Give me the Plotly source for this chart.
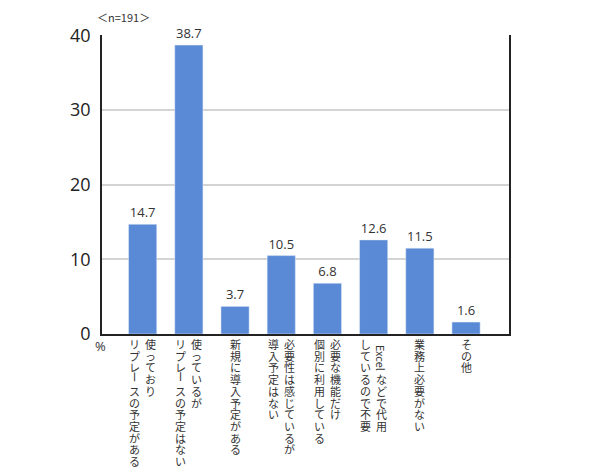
import plotly.graph_objects as go

# each label is a list of vertical columns, right column first
labels = [
    ["使っており", "リプレースの予定がある"],
    ["使っているが", "リプレースの予定はない"],
    ["新規に導入予定がある"],
    ["必要性は感じているが", "導入予定はない"],
    ["必要な機能だけ", "個別に利用している"],
    ["Excelなどで代用", "しているので不要"],
    ["業務上必要がない"],
    ["その他"],
]
values = [14.7, 38.7, 3.7, 10.5, 6.8, 12.6, 11.5, 1.6]
y_ticks = [0, 10, 20, 30, 40]
n_note = "＜n=191＞"

jp_font = "Noto Sans CJK JP"
num_font = "Open Sans"
bar_color = "#5a8ad6"

fig = go.Figure()
fig.add_trace(go.Bar(
    x=list(range(len(values))),
    y=values,
    width=0.61,
    marker_color=bar_color,
    text=[f"{v:.1f}" for v in values],
    textposition="outside",
    textfont=dict(family=num_font, size=13, color="#333333"),
    cliponaxis=False,
    hoverinfo="skip",
))

# vertical (tategaki) category labels, one annotation per character
step = 11.7
top_gap = 0
for i, cols in enumerate(labels):
    ncol = len(cols)
    for c, col in enumerate(cols):
        xs = 0 if ncol == 1 else (8 if c == 0 else -8)
        k = 0
        text = col
        if text.startswith("Excel"):
            fig.add_annotation(
                x=i, xref="x", y=0, yref="y",
                text="Excel", textangle=90, showarrow=False,
                font=dict(family=jp_font, size=11, color="#333333"),
                xshift=xs, yshift=-(top_gap + 1.5 * step + 6),
                yanchor="middle", xanchor="center",
            )
            k = 3
            text = text[5:]
        for ch in text:
            rot = 90 if ch == "ー" else 0
            fig.add_annotation(
                x=i, xref="x", y=0, yref="y",
                text=ch, textangle=rot, showarrow=False,
                font=dict(family=jp_font, size=11, color="#333333"),
                xshift=xs, yshift=-(top_gap + k * step) - (8 if rot else 0),
                yanchor="middle" if rot else "top", xanchor="center",
            )
            k += 1

fig.add_annotation(
    x=0.0, xref="paper", y=0, yref="y",
    text="%", showarrow=False,
    font=dict(family=num_font, size=13, color="#333333"),
    xshift=-2, yshift=-12, xanchor="center", yanchor="middle",
)
fig.add_annotation(
    x=-0.017, xref="paper", y=1, yref="paper",
    text=n_note, showarrow=False,
    font=dict(family=jp_font, size=11, color="#333333"),
    xanchor="left", yanchor="bottom", yshift=8,
)

# the page adds an 8px body margin, so the margins are shifted to match
fig.update_layout(
    width=590, height=474,
    margin=dict(l=94, r=89, t=27, b=148),
    paper_bgcolor="white", plot_bgcolor="white",
    showlegend=False,
    xaxis=dict(
        range=[-0.88, 7.93],
        showticklabels=False,
        showgrid=False,
        showline=True, linecolor="#222222", linewidth=1.5,
        zeroline=False, ticks="",
        fixedrange=True,
    ),
    yaxis=dict(
        range=[0, 40.05],
        tickvals=y_ticks,
        ticktext=[str(t) for t in y_ticks],
        tickfont=dict(family=num_font, size=18, color="#222222"),
        showgrid=True, gridcolor="#d4d4d4", gridwidth=1.5,
        showline=True, linecolor="#222222", linewidth=1.5, mirror=True,
        zeroline=False, ticks="", ticklabelstandoff=6,
        fixedrange=True,
    ),
)

fig.write_html("out.html")
